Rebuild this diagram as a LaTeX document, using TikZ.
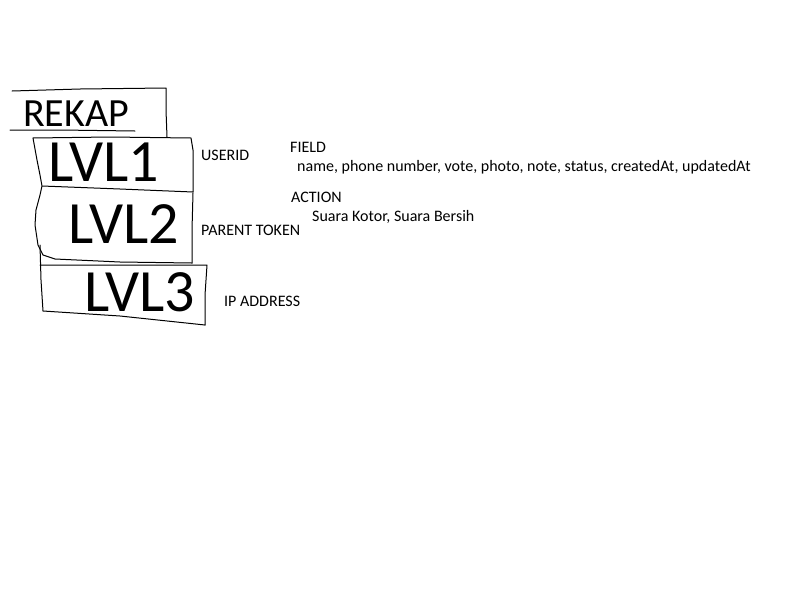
\documentclass[tikz,border=0pt]{standalone}
\usepackage{fontspec}
\setmainfont{Carlito}
\begin{document}
\begin{tikzpicture}[x=1pt,y=-1pt,
  sketch/.style={draw=black,line width=1pt,line join=round,line cap=round},
  lbl/.style={anchor=west,inner sep=0pt,font=\fontsize{16}{19}\selectfont},
  hand/.style={anchor=center,inner sep=0pt,font=\fontsize{#1}{#1}\selectfont},
  hand/.default=60]
\useasboundingbox[fill=white] (0,0) rectangle (800,600);
% REKAP box (open)
\draw[sketch] (12,91) -- (80,89) -- (166,88) -- (166,110) -- (167,137);
\draw[sketch] (10,130) -- (60,130) -- (135,131);
% LVL1 box
\draw[sketch] (33,138) -- (110,137) -- (191,138) -- (193,150) -- (193,192);
\draw[sketch] (42,186) -- (120,189) -- (193,192);
\draw[sketch] (33,138) -- (37,160) -- (40,175) -- (42,186) -- (40,195) -- (36,210) -- (35,225) -- (38,245) -- (43,255) -- (55,259) -- (120,262) -- (192,263);
% LVL2 box
\draw[sketch] (193,193) -- (192,230) -- (192,263);
% LVL3 box
\draw[sketch] (40,265) -- (120,265) -- (207,265) -- (205,295) -- (205,325);
\draw[sketch] (40,245) -- (41,280) -- (43,311) -- (120,316) -- (205,325);
% handwritten labels
\node[hand=40] (rekap) at (76,114) {REKAP};
\node[hand=60] (lvl1) at (104,162) {LVL1};
\node[hand=60] (lvl2) at (124,224) {LVL2};
\node[hand=60] (lvl3) at (140,292) {LVL3};
% typed labels
\node[lbl] (userid) at (201,155) {USERID};
\node[lbl] (parent) at (201,230) {PARENT TOKEN};
\node[lbl] (ip) at (224,301) {IP ADDRESS};
\node[lbl] (field) at (290,147) {FIELD};
\node[lbl] (fields) at (297,167) {name, phone number, vote, photo, note, status, createdAt, updatedAt};
\node[lbl] (action) at (291,197) {ACTION};
\node[lbl] (actions) at (312,217) {Suara Kotor, Suara Bersih};
\end{tikzpicture}
\end{document}
